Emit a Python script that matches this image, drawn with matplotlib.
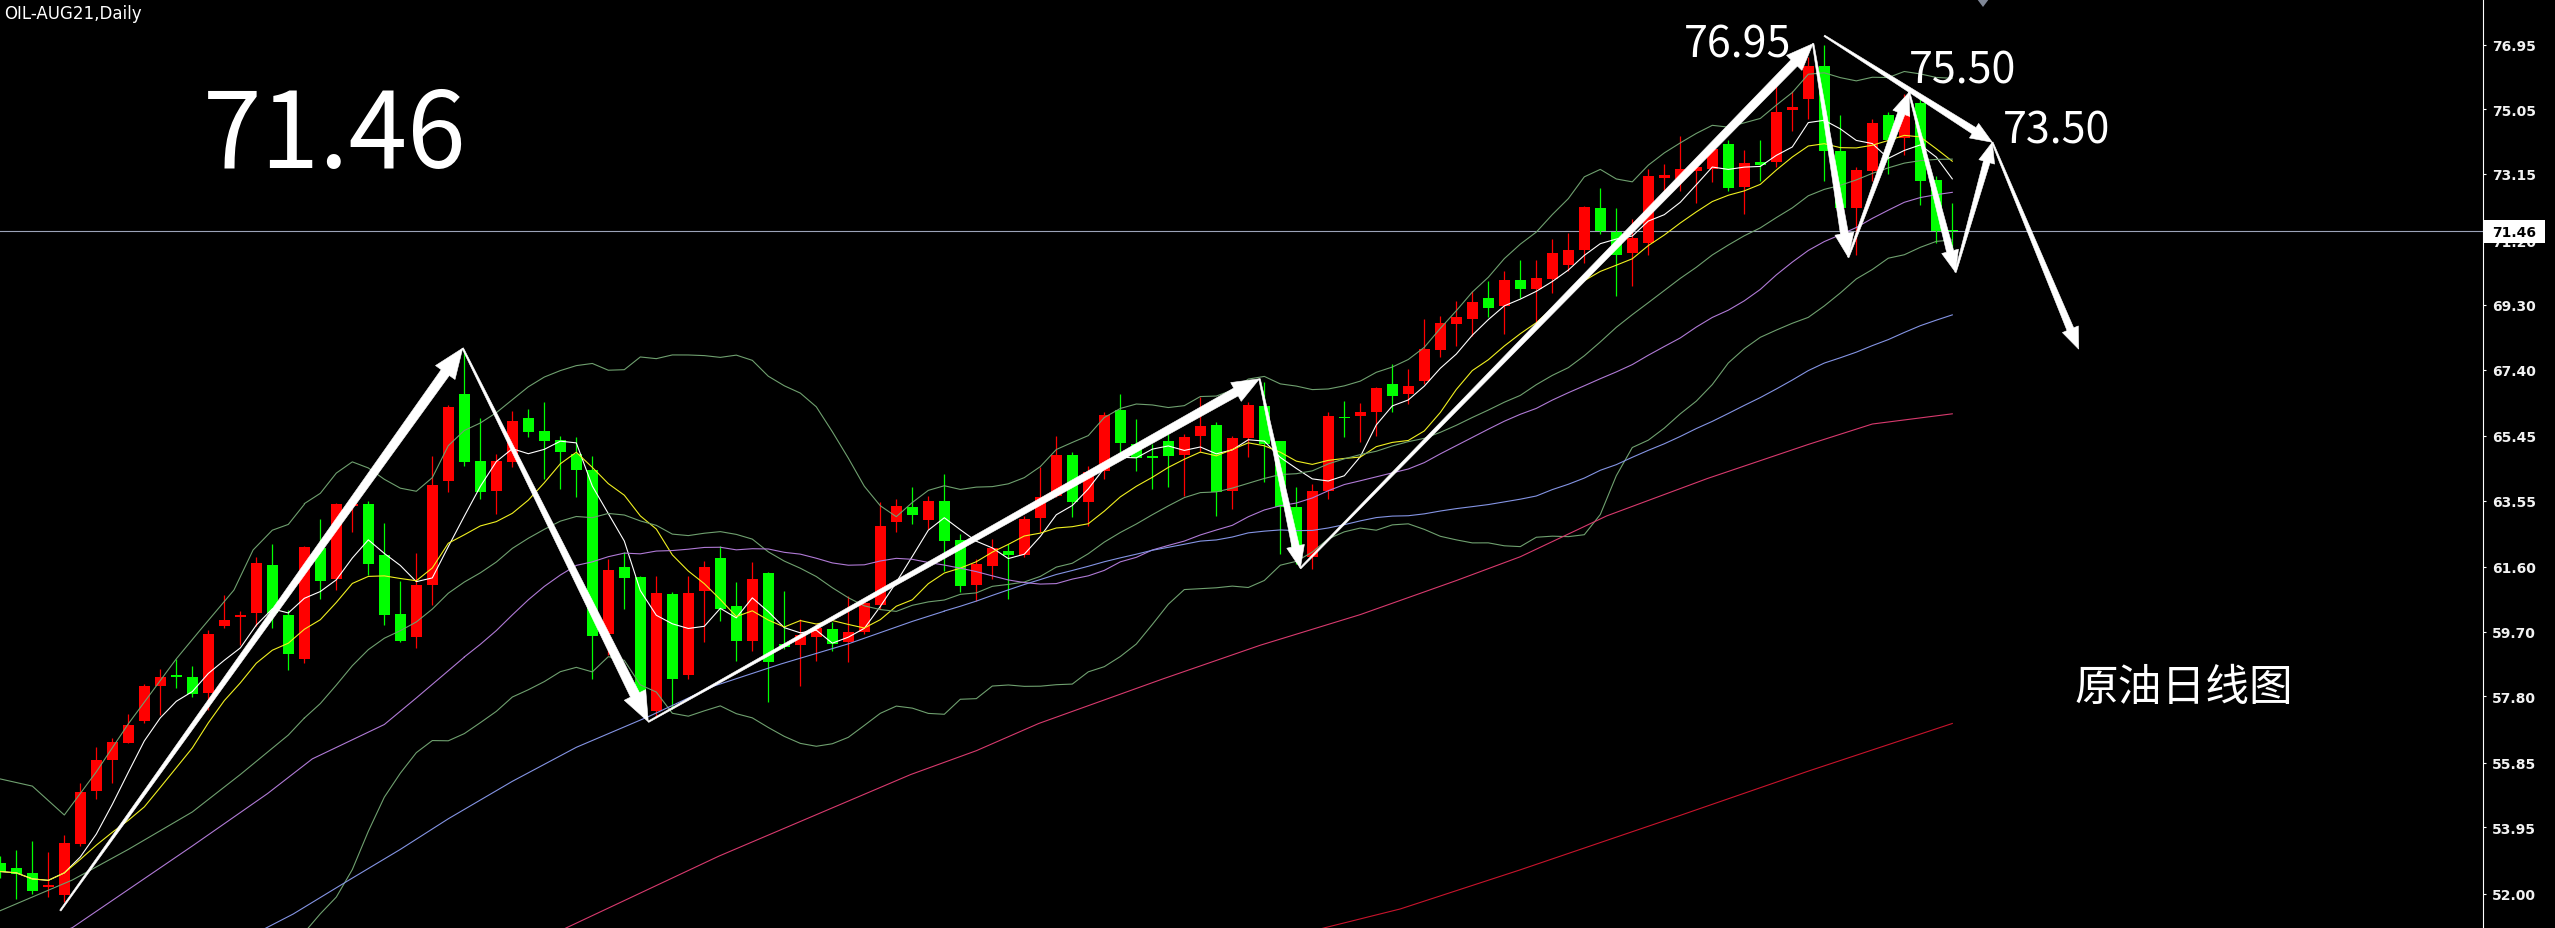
import matplotlib
matplotlib.use("Agg")
import matplotlib.pyplot as plt
from matplotlib.patches import Polygon, Rectangle
import numpy as np
import pandas as pd

W, H = 2555, 929
AXIS_X = 2483
Y_TOP, Y_BOT = 78.29, 50.99
X_LEFT, X_RIGHT = -0.02, 155.17

RED = "#ff0000"
GREEN = "#00ff00"

# daily candles, OIL-AUG21
opens = [52.90, 52.75, 52.60, 52.20, 51.96, 53.46, 55.02, 55.93, 56.44, 57.06,
         58.10, 58.42, 58.36, 57.91, 59.86, 60.12, 60.26, 61.67, 60.19, 58.90,
         62.16, 61.25, 63.39, 63.44, 61.95, 60.23, 59.54, 61.06, 64.13, 66.68,
         64.70, 63.83, 64.67, 65.97, 65.59, 65.33, 64.92, 64.46, 59.63, 61.59,
         61.30, 57.38, 60.81, 58.43, 60.90, 61.85, 60.46, 59.43, 61.42, 59.34,
         59.31, 59.53, 59.78, 59.38, 59.68, 60.48, 62.91, 63.37, 62.99, 63.53,
         62.39, 61.07, 61.64, 62.06, 61.95, 63.03, 63.68, 64.89, 63.50, 64.43,
         66.21, 65.21, 64.87, 65.31, 64.89, 65.44, 65.77, 63.84, 65.38, 66.32,
         65.31, 63.35, 61.88, 63.84, 66.00, 66.03, 66.15, 66.98, 66.68, 67.05,
         67.98, 68.74, 68.90, 69.50, 69.28, 70.03, 69.76, 70.06, 70.47, 70.90,
         72.16, 71.45, 70.82, 71.13, 73.03, 73.00, 73.25, 73.30, 74.04, 72.77,
         73.50, 73.50, 75.02, 75.35, 76.33, 73.83, 72.16, 73.25, 74.87, 74.21,
         75.22, 72.97, 71.50]
highs = [53.10, 53.28, 53.55, 53.22, 53.72, 55.25, 56.31, 56.57, 57.28, 58.15,
         58.60, 58.90, 58.69, 59.75, 60.77, 60.31, 61.89, 62.26, 60.34, 62.22,
         63.01, 63.49, 63.49, 63.54, 62.90, 61.19, 62.00, 64.86, 66.37, 67.98,
         65.98, 64.93, 66.19, 66.24, 66.44, 65.45, 65.42, 64.87, 61.83, 62.03,
         61.34, 61.34, 60.86, 61.34, 61.78, 62.22, 61.15, 61.74, 61.45, 60.90,
         60.07, 59.92, 59.97, 60.76, 60.56, 63.50, 63.60, 63.94, 63.69, 64.33,
         62.57, 61.83, 62.42, 62.27, 63.11, 64.53, 65.46, 64.97, 64.58, 66.15,
         66.68, 65.95, 65.21, 65.51, 65.51, 66.59, 65.85, 65.46, 66.44, 67.03,
         65.31, 63.94, 64.04, 66.15, 66.49, 66.42, 66.88, 67.56, 67.42, 68.89,
         68.98, 69.42, 69.71, 70.01, 70.31, 70.62, 70.62, 71.23, 71.41, 72.22,
         72.75, 72.14, 71.83, 73.30, 73.45, 74.26, 73.50, 74.06, 74.16, 73.84,
         74.16, 75.90, 75.58, 76.60, 76.95, 74.87, 73.35, 74.77, 74.97, 75.50,
         75.37, 73.10, 72.30]
lows = [52.45, 51.84, 51.99, 51.90, 51.75, 53.40, 54.78, 55.25, 56.43, 57.00,
        57.25, 58.04, 57.78, 57.40, 59.80, 59.32, 59.86, 59.81, 58.57, 58.79,
        60.66, 60.92, 62.64, 61.36, 59.90, 59.38, 59.22, 60.48, 63.81, 64.57,
        63.60, 63.17, 64.53, 65.41, 64.18, 63.89, 63.66, 58.31, 59.00, 60.37,
        57.67, 57.23, 57.43, 58.31, 59.39, 60.02, 58.85, 59.14, 57.62, 59.19,
        58.11, 58.85, 59.14, 58.80, 59.63, 60.36, 62.62, 62.86, 62.72, 61.49,
        60.86, 60.61, 61.25, 60.66, 61.88, 62.62, 63.65, 63.06, 62.81, 64.18,
        64.97, 64.43, 63.89, 63.94, 63.69, 64.97, 63.11, 63.30, 64.82, 64.09,
        61.98, 61.69, 61.54, 63.60, 65.41, 65.26, 65.46, 66.15, 66.39, 66.98,
        67.76, 68.10, 68.39, 68.95, 68.45, 69.50, 68.80, 69.66, 70.31, 70.52,
        71.38, 69.56, 69.86, 70.77, 72.64, 72.64, 72.29, 72.90, 72.64, 71.98,
        72.95, 73.35, 74.41, 74.77, 72.95, 72.04, 70.77, 72.95, 73.15, 73.70,
        72.24, 71.13, 70.95]
closes = [52.65, 52.57, 52.08, 52.26, 53.49, 54.99, 55.93, 56.45, 56.97, 58.10,
          58.38, 58.36, 57.88, 59.63, 60.04, 60.19, 61.72, 60.26, 59.03, 62.19,
          61.19, 63.44, 63.46, 61.70, 60.20, 59.42, 61.06, 64.01, 66.30, 64.67,
          63.79, 64.71, 65.90, 65.57, 65.31, 64.99, 64.46, 59.56, 61.52, 61.27,
          57.72, 60.83, 58.31, 60.83, 61.59, 60.36, 59.43, 61.25, 58.80, 59.24,
          59.60, 59.82, 59.34, 59.68, 60.54, 62.81, 63.38, 63.14, 63.53, 62.37,
          61.05, 61.69, 62.16, 61.96, 63.01, 63.65, 64.89, 63.52, 64.40, 66.07,
          65.24, 64.80, 64.80, 64.87, 65.41, 65.75, 63.79, 65.38, 66.36, 65.21,
          63.35, 62.18, 63.84, 66.05, 65.98, 66.15, 66.85, 66.63, 66.93, 68.01,
          68.77, 68.94, 69.40, 69.22, 70.03, 69.76, 70.09, 70.84, 70.90, 72.19,
          71.48, 70.77, 71.28, 73.10, 73.13, 73.30, 73.35, 73.88, 72.75, 73.47,
          73.40, 74.97, 75.12, 76.33, 73.81, 72.14, 73.27, 74.66, 74.16, 74.97,
          72.95, 71.48, 71.46]

# indicator values read off the chart where the window has no history
bb_up_early_k = [0, 2, 4, 6, 8, 11, 12.5, 14.6, 15.8, 17, 18, 19]
bb_up_early = [55.37, 55.16, 54.31, 55.58, 56.99, 58.90, 59.75, 60.92, 62.10, 62.68, 62.85, 63.44]
bb_mid_early_k = [0, 4.5, 8, 12, 15, 18, 19]
bb_mid_early = [51.5, 52.4, 53.3, 54.4, 55.5, 56.66, 57.16]
bb_low_early_k = [0, 8, 14, 19]
bb_low_early = [47.6, 49.2, 49.8, 50.9]
ma30_early_k = [0, 4.5, 12, 16.7, 19.5, 24, 26, 29]
ma30_early = [50.2, 51.0, 53.4, 54.94, 55.96, 56.97, 57.75, 58.95]
ma60_early_k = [0, 15, 18.3, 21.8, 25, 28, 32, 36, 40.5, 44.6, 48.8, 53, 57, 59]
ma60_early = [49.0, 50.6, 51.4, 52.4, 53.3, 54.2, 55.3, 56.3, 57.2, 58.1, 58.75, 59.34, 60.0, 60.3]
ma120_k = [30, 35.4, 44.9, 56.9, 61, 64.9, 72.6, 78.75, 85, 91, 95, 100.4, 106.7, 113, 117, 122]
ma120 = [49.8, 51.0, 53.1, 55.5, 56.2, 57.0, 58.3, 59.3, 60.2, 61.2, 61.9, 63.1, 64.2, 65.2, 65.8, 66.1]
ma250_k = [78, 82.8, 87.5, 95, 105, 113, 122]
ma250 = [50.4, 51.0, 51.55, 52.7, 54.3, 55.6, 57.0]

# hand drawn zigzag (bar index, price)
zz_k = [3.75, 28.9, 40.5, 78.7, 81.25, 113.3, 115.5, 119.3, 122.2, 124.5, 129.9]
zz_p = [51.50, 68.03, 57.05, 67.13, 61.56, 76.98, 70.70, 75.55, 70.26, 74.08, 68.00]
zz_size = [1.0, 1.0, 0.9, 0.75, 0.9, 0.8, 0.75, 0.72, 0.68, 0.72]
trend_k = [114.0, 124.5]
trend_p = [77.21, 74.08]

price_ticks = [76.95, 75.05, 73.15, 71.20, 69.30, 67.40, 65.45, 63.55,
               61.60, 59.70, 57.80, 55.85, 53.95, 52.00]
last_price = 71.46


def plot_candles(ax):
    k = np.arange(len(closes))
    o = np.array(opens)
    c = np.array(closes)
    colors = np.where(c >= o, RED, GREEN)
    ax.vlines(k, lows, highs, colors=colors, lw=0.9, zorder=3)
    bottom = np.minimum(o, c)
    height = np.maximum(np.abs(c - o), 0.035)
    ax.bar(k, height, bottom=bottom, width=0.68, color=colors, linewidth=0, zorder=3)


def plot_indicators(ax):
    s = pd.Series(closes)
    k = np.arange(len(closes))
    lw = 0.8
    ax.plot(k, s.rolling(5, min_periods=1).mean(), color="white", lw=lw, zorder=4)
    ax.plot(k, s.rolling(10, min_periods=1).mean(), color="#f0f020", lw=lw, zorder=4)

    mid = s.rolling(20).mean()
    sd = s.rolling(20).std(ddof=0)
    bb = "#6fa06f"
    for early_k, early, line in ((bb_up_early_k, bb_up_early, mid + 2 * sd),
                                 (bb_mid_early_k, bb_mid_early, mid),
                                 (bb_low_early_k, bb_low_early, mid - 2 * sd)):
        ax.plot(early_k, early, color=bb, lw=lw, zorder=4)
        ax.plot(k[19:], line[19:], color=bb, lw=lw, zorder=4)

    ma30 = s.rolling(30).mean()
    ax.plot(ma30_early_k, ma30_early, color="#b07ad6", lw=lw, zorder=4)
    ax.plot(k[29:], ma30[29:], color="#b07ad6", lw=lw, zorder=4)
    ma60 = s.rolling(60).mean()
    ax.plot(ma60_early_k, ma60_early, color="#8494e4", lw=lw, zorder=4)
    ax.plot(k[59:], ma60[59:], color="#8494e4", lw=lw, zorder=4)
    ax.plot(ma120_k, ma120, color="#d83a6e", lw=lw, zorder=4)
    ax.plot(ma250_k, ma250, color="#c8142c", lw=lw, zorder=4)


def arrow(ax, k0, p0, k1, p1, scale):
    sx = AXIS_X / (X_RIGHT - X_LEFT)
    sy = H / (Y_TOP - Y_BOT)
    x0, y0, x1, y1 = k0 * sx, p0 * sy, k1 * sx, p1 * sy
    d = np.hypot(x1 - x0, y1 - y0)
    ux, uy = (x1 - x0) / d, (y1 - y0) / d
    nx, ny = -uy, ux
    w0, w1, hw, hl = 1.5, 10 * scale, 24 * scale, 30 * scale
    bx, by = x1 - ux * hl, y1 - uy * hl
    pts = [(x0 + nx * w0 / 2, y0 + ny * w0 / 2),
           (bx + nx * w1 / 2, by + ny * w1 / 2),
           (bx + nx * hw / 2, by + ny * hw / 2),
           (x1, y1),
           (bx - nx * hw / 2, by - ny * hw / 2),
           (bx - nx * w1 / 2, by - ny * w1 / 2),
           (x0 - nx * w0 / 2, y0 - ny * w0 / 2)]
    pts = [(x / sx, y / sy) for x, y in pts]
    ax.add_patch(Polygon(pts, closed=True, facecolor="white", edgecolor="white",
                         lw=0.4, zorder=6))


def fig_text(fig, x, y, s, **kw):
    fig.text(x / W, 1 - y / H, s, **kw)


if __name__ == "__main__":
    fig = plt.figure(figsize=(W / 100, H / 100), dpi=100, facecolor="black")
    ax = fig.add_axes([0, 0, AXIS_X / W, 1], facecolor="black")
    ax.set_xlim(X_LEFT, X_RIGHT)
    ax.set_ylim(Y_BOT, Y_TOP)

    plot_candles(ax)
    plot_indicators(ax)
    ax.axhline(last_price, color="#9ca3b8", lw=0.8, zorder=2)

    for i in range(len(zz_k) - 1):
        arrow(ax, zz_k[i], zz_p[i], zz_k[i + 1], zz_p[i + 1], zz_size[i])
    arrow(ax, trend_k[0], trend_p[0], trend_k[1], trend_p[1], 0.72)

    for side in ("left", "top", "bottom"):
        ax.spines[side].set_visible(False)
    ax.spines["right"].set_color("white")
    ax.spines["right"].set_linewidth(0.8)
    ax.set_xticks([])
    ax.yaxis.tick_right()
    ax.set_yticks(price_ticks)
    ax.set_yticklabels(["%.2f" % t for t in price_ticks])
    ax.tick_params(axis="y", colors="white", labelcolor="#f2f2f2", length=2.5,
                   width=0.8, pad=4, labelsize=10)
    for lab in ax.get_yticklabels():
        lab.set_fontweight("bold")

    # current price box on the scale
    fig.patches.append(Rectangle((2484 / W, 1 - 244 / H), 61 / W, 23 / H,
                                 transform=fig.transFigure, facecolor="white",
                                 edgecolor="none", zorder=10))
    fig_text(fig, 2492, 233, "%.2f" % last_price, color="black", fontsize=10,
             fontweight="bold", va="center", zorder=11)
    fig.patches.append(Polygon([[1977 / W, 1], [1989 / W, 1], [1983 / W, 1 - 8 / H]],
                               closed=True, transform=fig.transFigure,
                               facecolor="#7f8796", edgecolor="none", zorder=10))

    fig_text(fig, 4, 5, "OIL-AUG21,Daily", color="white", fontsize=12, va="top")
    fig_text(fig, 203, 168, "71.46", color="white", fontsize=76,
             family=["Noto Sans CJK SC", "DejaVu Sans"], va="baseline")
    for s, x, y in (("76.95", 1684, 57), ("75.50", 1909, 83), ("73.50", 2003, 143)):
        fig_text(fig, x, y, s, color="white", fontsize=31,
                 family=["Noto Sans CJK SC", "DejaVu Sans"], va="baseline")
    fig_text(fig, 2075, 688, "原油日线图", color="white", fontsize=31.5,
             family=["Noto Sans CJK SC", "DejaVu Sans"], va="center")

    fig.savefig("out.png", dpi=100, facecolor="black")
